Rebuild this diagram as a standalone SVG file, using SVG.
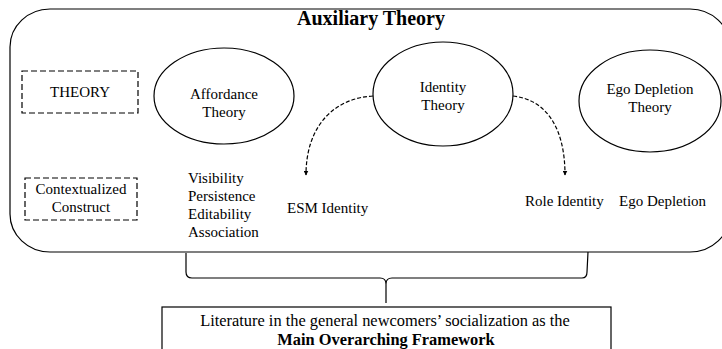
<svg xmlns="http://www.w3.org/2000/svg" width="722" height="349" viewBox="0 0 722 349">
<defs>
<marker id="ah" viewBox="0 0 10 10" refX="9" refY="5" markerWidth="5" markerHeight="5" orient="auto" markerUnits="userSpaceOnUse">
<path d="M0,0 L10,5 L0,10 z" fill="#000"/>
</marker>
<style>
text{font-family:"Liberation Serif","Times New Roman",serif;fill:#000;font-size:15px}
.c{text-anchor:middle}
.b{font-weight:bold}
.sh{fill:none;stroke:#000;stroke-width:1.2}
.dash{fill:none;stroke:#000;stroke-width:1.2;stroke-dasharray:6,3}
.arr{fill:none;stroke:#000;stroke-width:1.2;stroke-dasharray:4,2;marker-end:url(#ah)}
.lg{font-size:16.4px}
</style>
</defs>
<rect width="722" height="349" fill="#fff"/>
<g id="auxiliary">
<rect class="sh" x="10" y="9" width="720" height="243" rx="40" ry="38"/>
<text class="c b" x="371" y="25" style="font-size:20px">Auxiliary Theory</text>
</g>
<g id="theory-label">
<rect class="dash" x="22" y="71" width="116" height="42"/>
<text class="c" x="80" y="97">THEORY</text>
</g>
<g id="construct-label">
<rect class="dash" x="25" y="178" width="112" height="42"/>
<text class="c" x="81" y="194">Contextualized</text>
<text class="c" x="81" y="212">Construct</text>
</g>
<g id="affordance">
<ellipse class="sh" cx="224" cy="96" rx="70" ry="48"/>
<text class="c" x="224" y="99">Affordance</text>
<text class="c" x="224" y="117">Theory</text>
</g>
<g id="identity">
<ellipse class="sh" cx="443" cy="94" rx="70" ry="52"/>
<text class="c" x="443" y="92">Identity</text>
<text class="c" x="443" y="110">Theory</text>
</g>
<g id="ego">
<ellipse class="sh" cx="650" cy="101" rx="71" ry="51"/>
<text class="c" x="650" y="94">Ego Depletion</text>
<text class="c" x="650" y="112">Theory</text>
</g>
<g id="affordance-constructs">
<text x="188" y="183">Visibility</text>
<text x="188" y="201">Persistence</text>
<text x="188" y="219">Editability</text>
<text x="188" y="237">Association</text>
</g>
<g id="esm-identity"><text x="287" y="213">ESM Identity</text></g>
<g id="role-identity"><text x="525" y="206">Role Identity</text></g>
<g id="ego-depletion"><text x="619" y="206">Ego Depletion</text></g>
<g id="framework">
<rect class="sh" x="162" y="307" width="449" height="50"/>
<text class="c lg" x="385" y="326">Literature in the general newcomers’ socialization as the</text>
<text class="c b lg" x="386" y="345">Main Overarching Framework</text>
</g>
<g id="connectors">
<path class="arr" d="M373,96 C335,98 306,125 306,175"/>
<path class="arr" d="M513,96 C548,100 565,130 565,175"/>
<path class="sh" stroke-width="1.6" d="M186,253 L186,272 Q186,278 192,278 L380,278 Q386,278 386,284 L386,303 M386,284 Q386,278 392,278 L582,278 Q587,278 587,272 L588,252"/>
</g>
</svg>
